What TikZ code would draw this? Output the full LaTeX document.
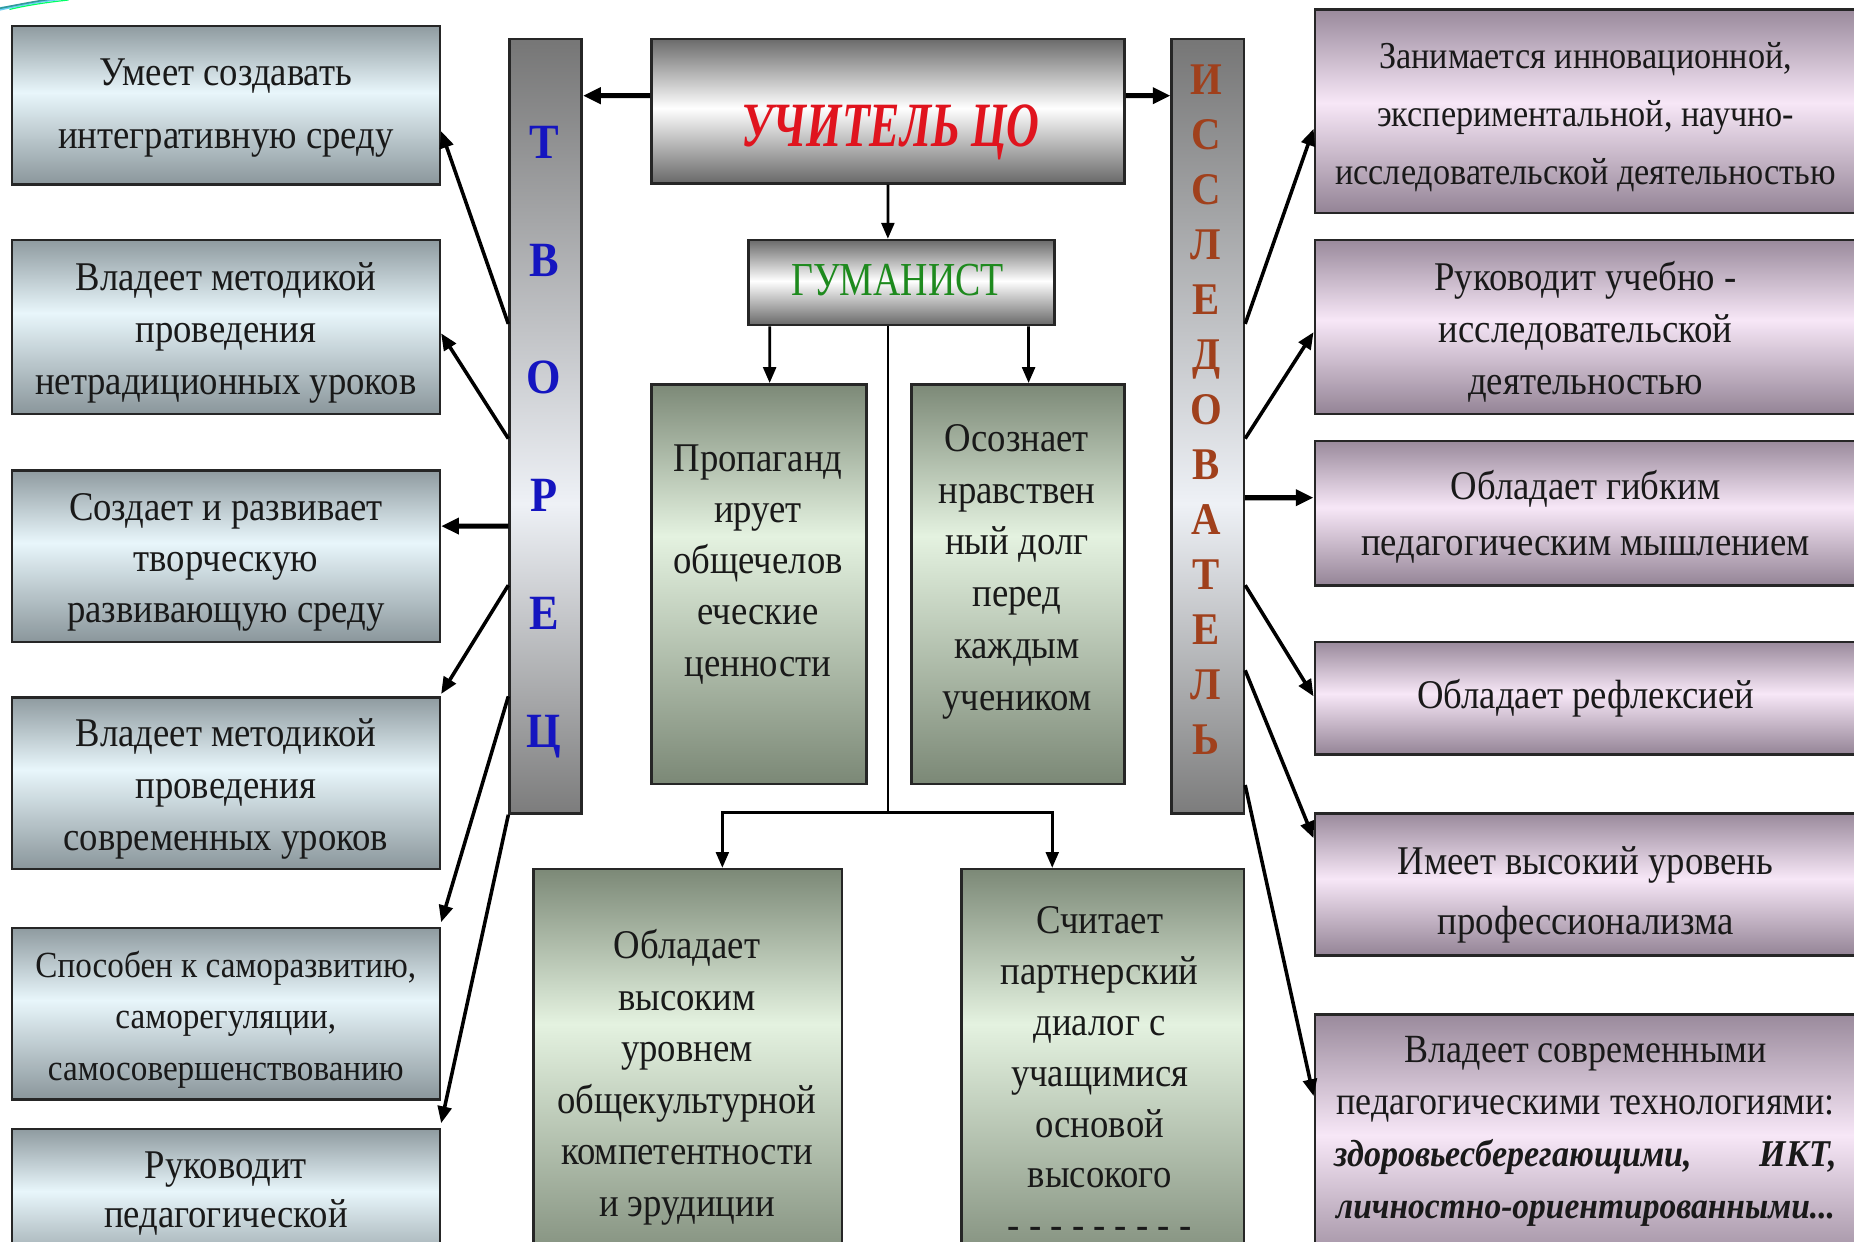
\documentclass[tikz,border=0pt]{standalone}
\usepackage{fontspec}
\setmainfont{Liberation Serif}[FakeStretch=0.9]
\newfontfamily\ucfont{Liberation Serif}[FakeStretch=0.72]
\newfontfamily\gmfont{Liberation Serif}[FakeStretch=0.8]
\usetikzlibrary{arrows.meta,calc}

\definecolor{lgTop}{HTML}{8F9BA0}
\definecolor{lgMid}{HTML}{E8F6FB}
\definecolor{lgBot}{HTML}{8A969B}
\definecolor{rgTop}{HTML}{9A8A9C}
\definecolor{rgMid}{HTML}{F7E7F7}
\definecolor{rgBot}{HTML}{948496}
\definecolor{ggTop}{HTML}{7C8977}
\definecolor{ggMid}{HTML}{E4F2E0}
\definecolor{ggBot}{HTML}{7B8876}
\definecolor{ugTop}{HTML}{6B6B6B}
\definecolor{ugMid}{HTML}{FFFFFF}
\definecolor{ugBot}{HTML}{686868}
\definecolor{barTop}{HTML}{767676}
\definecolor{barMid}{HTML}{EEF1F6}
\definecolor{barBot}{HTML}{7C7C7C}
\definecolor{tvBlue}{HTML}{1515C0}
\definecolor{isBrown}{HTML}{A0401C}
\definecolor{ucRed}{HTML}{E0141E}
\definecolor{gmGreen}{HTML}{1E8A1E}

\pgfdeclareverticalshading{lshade}{100bp}{color(0bp)=(lgBot); color(25bp)=(lgBot); color(54bp)=(lgMid); color(75bp)=(lgTop); color(100bp)=(lgTop)}
\pgfdeclareverticalshading{rshade}{100bp}{color(0bp)=(rgBot); color(25bp)=(rgBot); color(52bp)=(rgMid); color(75bp)=(rgTop); color(100bp)=(rgTop)}
\pgfdeclareverticalshading{gshade}{100bp}{color(0bp)=(ggBot); color(25bp)=(ggBot); color(56bp)=(ggMid); color(75bp)=(ggTop); color(100bp)=(ggTop)}
\pgfdeclareverticalshading{ushade}{100bp}{color(0bp)=(ugBot); color(25bp)=(ugBot); color(51bp)=(ugMid); color(75bp)=(ugTop); color(100bp)=(ugTop)}
\pgfdeclareverticalshading{bshade}{100bp}{color(0bp)=(barBot); color(25bp)=(barBot); color(45bp)=(barMid); color(75bp)=(barTop); color(100bp)=(barTop)}

\newcommand\nl{\strut\\\strut}

\tikzset{
  box/.style={draw=black!85, line width=1.3pt, inner sep=0pt, rectangle},
  lbox/.style={box, shading=lshade},
  rbox/.style={box, shading=rshade},
  gbox/.style={box, shading=gshade},
  ubox/.style={box, shading=ushade},
  bbox/.style={box, shading=bshade},
  txt/.style={align=center, inner sep=0pt, text=black!90,
    font=\fontsize{20.7}{26.4}\selectfont,
    execute at begin node=\strut, execute at end node=\strut},
  conn/.style={-{Triangle[length=8.5pt,width=7pt]}, line width=1.8pt},
  thk/.style={-{Triangle[length=9pt,width=8pt]}, line width=2.6pt},
  vconn/.style={-{Triangle[length=8pt,width=6.5pt]}, line width=1.4pt},
  trunk/.style={line width=0.9pt},
  tvlet/.style={anchor=base, inner sep=0pt, text=tvBlue, font=\fontsize{25}{25}\selectfont\bfseries},
  islet/.style={anchor=base, inner sep=0pt, text=isBrown, font=\fontsize{23}{23}\selectfont\bfseries},
}

\begin{document}
\begin{tikzpicture}[x=0.6pt, y=-0.6pt]
\useasboundingbox (0,0) rectangle (1568,1050);
\clip (0,0) rectangle (1568,1050);
\fill[white] (0,0) rectangle (1568,1050);

% top-left decoration
\fill[cyan!60!white] (0,9) .. controls (18,5) and (38,1) .. (62,-1) -- (48,-1) .. controls (30,1) and (14,4) .. (0,6) -- cycle;
\draw[teal!80, line width=0.8pt] (0,7) .. controls (15,4) and (30,1) .. (45,-1);
\draw[green!60!cyan, line width=0.6pt] (8,8) .. controls (25,4) and (40,2) .. (58,0);

% left boxes
\node[lbox, minimum width=217.2pt, minimum height=80.4pt] (L1) at (191,89) {};
\node[lbox, minimum width=217.2pt, minimum height=88.2pt] (L2) at (191,276.5) {};
\node[lbox, minimum width=217.2pt, minimum height=87pt] (L3) at (191,470.5) {};
\node[lbox, minimum width=217.2pt, minimum height=87pt] (L4) at (191,662.5) {};
\node[lbox, minimum width=217.2pt, minimum height=87pt] (L5) at (191,857.5) {};
\node[lbox, minimum width=217.2pt, minimum height=75pt] (L6) at (191,1017.5) {};

% bars
\node[bbox, minimum width=36.6pt, minimum height=393pt] (tvor) at (461.5,360.5) {};
\node[bbox, minimum width=36.6pt, minimum height=393pt] (issl) at (1021.5,360.5) {};

% centre
\node[ubox, minimum width=240pt, minimum height=73.2pt] (U) at (751,94) {};
\node[ubox, minimum width=155.4pt, minimum height=43.2pt] (G) at (762.5,239) {};
\node[gbox, minimum width=109.2pt, minimum height=202.8pt] (G1) at (642,494) {};
\node[gbox, minimum width=108pt, minimum height=202.8pt] (G2) at (861,494) {};
\node[gbox, minimum width=156.6pt, minimum height=207pt] (G3) at (581.5,907.5) {};
\node[gbox, minimum width=143.4pt, minimum height=207pt] (G4) at (932.5,907.5) {};

% right boxes
\node[rbox, minimum width=280.8pt, minimum height=103.2pt] (R1) at (1346,94) {};
\node[rbox, minimum width=280.8pt, minimum height=88.2pt] (R2) at (1346,276.5) {};
\node[rbox, minimum width=280.8pt, minimum height=73.2pt] (R3) at (1346,434) {};
\node[rbox, minimum width=280.8pt, minimum height=57pt] (R4) at (1346,590.5) {};
\node[rbox, minimum width=280.8pt, minimum height=72pt] (R5) at (1346,748) {};
\node[rbox, minimum width=280.8pt, minimum height=133.2pt] (R6) at (1346,969) {};

% connectors: centre
\draw[thk] ($(U.north west)+(0,49)$) -- ($(tvor.north east)+(0,49)$);
\draw[thk] ($(U.north east)+(0,49)$) -- ($(issl.north west)+(0,49)$);
\draw[vconn] ($(U.south west)+(201,0)$) -- ($(G.north west)+(119,0)$);
\draw[vconn] ($(G.south west)+(19,0)$) -- ($(G1.north west)+(101,0)$);
\draw[vconn] ($(G.south west)+(238,0)$) -- ($(G2.north west)+(100,0)$);
\draw[trunk] ($(G.south west)+(119,0)$) -- ($(G3.north west)+(301,-47)$);
\draw[vconn] ($(G3.north west)+(301,-47)$) -| ($(G3.north west)+(161,0)$);
\draw[vconn] ($(G3.north west)+(301,-47)$) -| ($(G4.north west)+(78,0)$);

% connectors: left
\draw[conn] ($(tvor.north west)+(0,242)$) -- ($(L1.north east)+(0,90)$);
\draw[conn] ($(tvor.north west)+(0,339)$) -- ($(L2.north east)+(0,80)$);
\draw[thk]  ($(tvor.north west)+(0,413)$) -- ($(L3.north east)+(0,48)$);
\draw[conn] ($(tvor.north west)+(0,463)$) -- ($(L4.north east)+(0,-2)$);
\draw[conn] ($(tvor.north west)+(0,557)$) -- ($(L5.north east)+(0,-4)$);
\draw[conn] (tvor.south west) -- ($(L6.north east)+(0,-4)$);

% connectors: right
\draw[conn] ($(issl.north east)+(0,242)$) -- ($(R1.north west)+(0,102)$);
\draw[conn] ($(issl.north east)+(0,339)$) -- ($(R2.north west)+(0,79)$);
\draw[thk]  ($(issl.north east)+(0,389)$) -- ($(R3.north west)+(0,49)$);
\draw[conn] ($(issl.north east)+(0,463)$) -- ($(R4.north west)+(0,47)$);
\draw[conn] ($(issl.north east)+(0,535)$) -- ($(R5.north west)+(0,22)$);
\draw[conn] ($(issl.north east)+(0,632)$) -- ($(R6.north west)+(0,70)$);

% texts left
\node[txt, font=\fontsize{20.7}{31.8}\selectfont] (L1t) at (191,88.5) {Умеет создавать\nl интегративную среду};
\node[txt] (L2t) at (191,281) {Владеет методикой\nl проведения\nl нетрадиционных уроков};
\node[txt, font=\fontsize{20.7}{25.8}\selectfont] (L3t) at (191,475) {Создает и развивает\nl творческую\nl развивающую среду};
\node[txt] (L4t) at (191,666.5) {Владеет методикой\nl проведения\nl современных уроков};
\node[txt, font=\fontsize{18.7}{26}\selectfont] (L5t) at (191,861.5) {Способен к саморазвитию,\nl саморегуляции,\nl самосовершенствованию};
\node[txt, font=\fontsize{20.7}{25.2}\selectfont] (L6t) at (191,1009) {Руководит\nl педагогической};

% texts centre
\node[anchor=base, inner sep=0pt, text=ucRed, font=\ucfont\bfseries\itshape\fontsize{32}{32}\selectfont] (Ut) at (753,124) {УЧИТЕЛЬ ЦО};
\node[anchor=base, inner sep=0pt, text=gmGreen, font=\gmfont\fontsize{24}{24}\selectfont] (Gt) at (759,250) {ГУМАНИСТ};
\node[txt, font=\fontsize{20.7}{26}\selectfont] (G1t) at (641,476.5) {Пропаганд\nl ирует\nl общечелов\nl еческие\nl ценности};
\node[txt, font=\fontsize{20.7}{26.3}\selectfont] (G2t) at (860,482.5) {Осознает\nl нравствен\nl ный долг\nl перед\nl каждым\nl учеником};
\node[txt, font=\fontsize{20.7}{26.2}\selectfont] (G3t) at (581,911) {Обладает\nl высоким\nl уровнем\nl общекультурной\nl компетентности\nl и эрудиции};
\node[txt, font=\fontsize{20.7}{25.8}\selectfont, execute at end node={}] (G4t) at (930,910) {Считает\nl партнерский\nl диалог с\nl учащимися\nl основой\nl высокого\\- - - - - - - - -};

% bar letters
\foreach \L [count=\i from 0] in {Т,В,О,Р,Е,Ц}
  \node[tvlet] (tv\i) at (460,{134+99.6*\i}) {\L};
\foreach \L [count=\i from 0] in {И,С,С,Л,Е,Д,О,В,А,Т,Е,Л,Ь}
  \node[islet] (is\i) at (1020,{79.7+46.5*\i}) {\L};

% texts right
\node[txt, font=\fontsize{19.3}{29.4}\selectfont] (R1t) at (1341,97) {Занимается инновационной,\nl экспериментальной, научно-\nl исследовательской деятельностью};
\node[txt] (R2t) at (1341,281) {Руководит учебно -\nl исследовательской\nl деятельностью};
\node[txt, font=\fontsize{20.7}{28.2}\selectfont] (R3t) at (1341,436.5) {Обладает гибким\nl педагогическим мышлением};
\node[txt] (R4t) at (1341,590) {Обладает рефлексией};
\node[txt, font=\fontsize{20.7}{30}\selectfont] (R5t) at (1341,755) {Имеет высокий уровень\nl профессионализма};
\node[txt, font=\fontsize{20.3}{26.4}\selectfont] (R6t) at (1341,956) {Владеет современными\nl педагогическими технологиями:\nl \makebox[255pt]{\bfseries\itshape\fontsize{19.2}{26.4}\selectfont здоровьесберегающими,\hfill ИКТ,}\nl {\bfseries\itshape\fontsize{18.9}{26.4}\selectfont личностно-ориентированными...}};
\end{tikzpicture}
\end{document}
